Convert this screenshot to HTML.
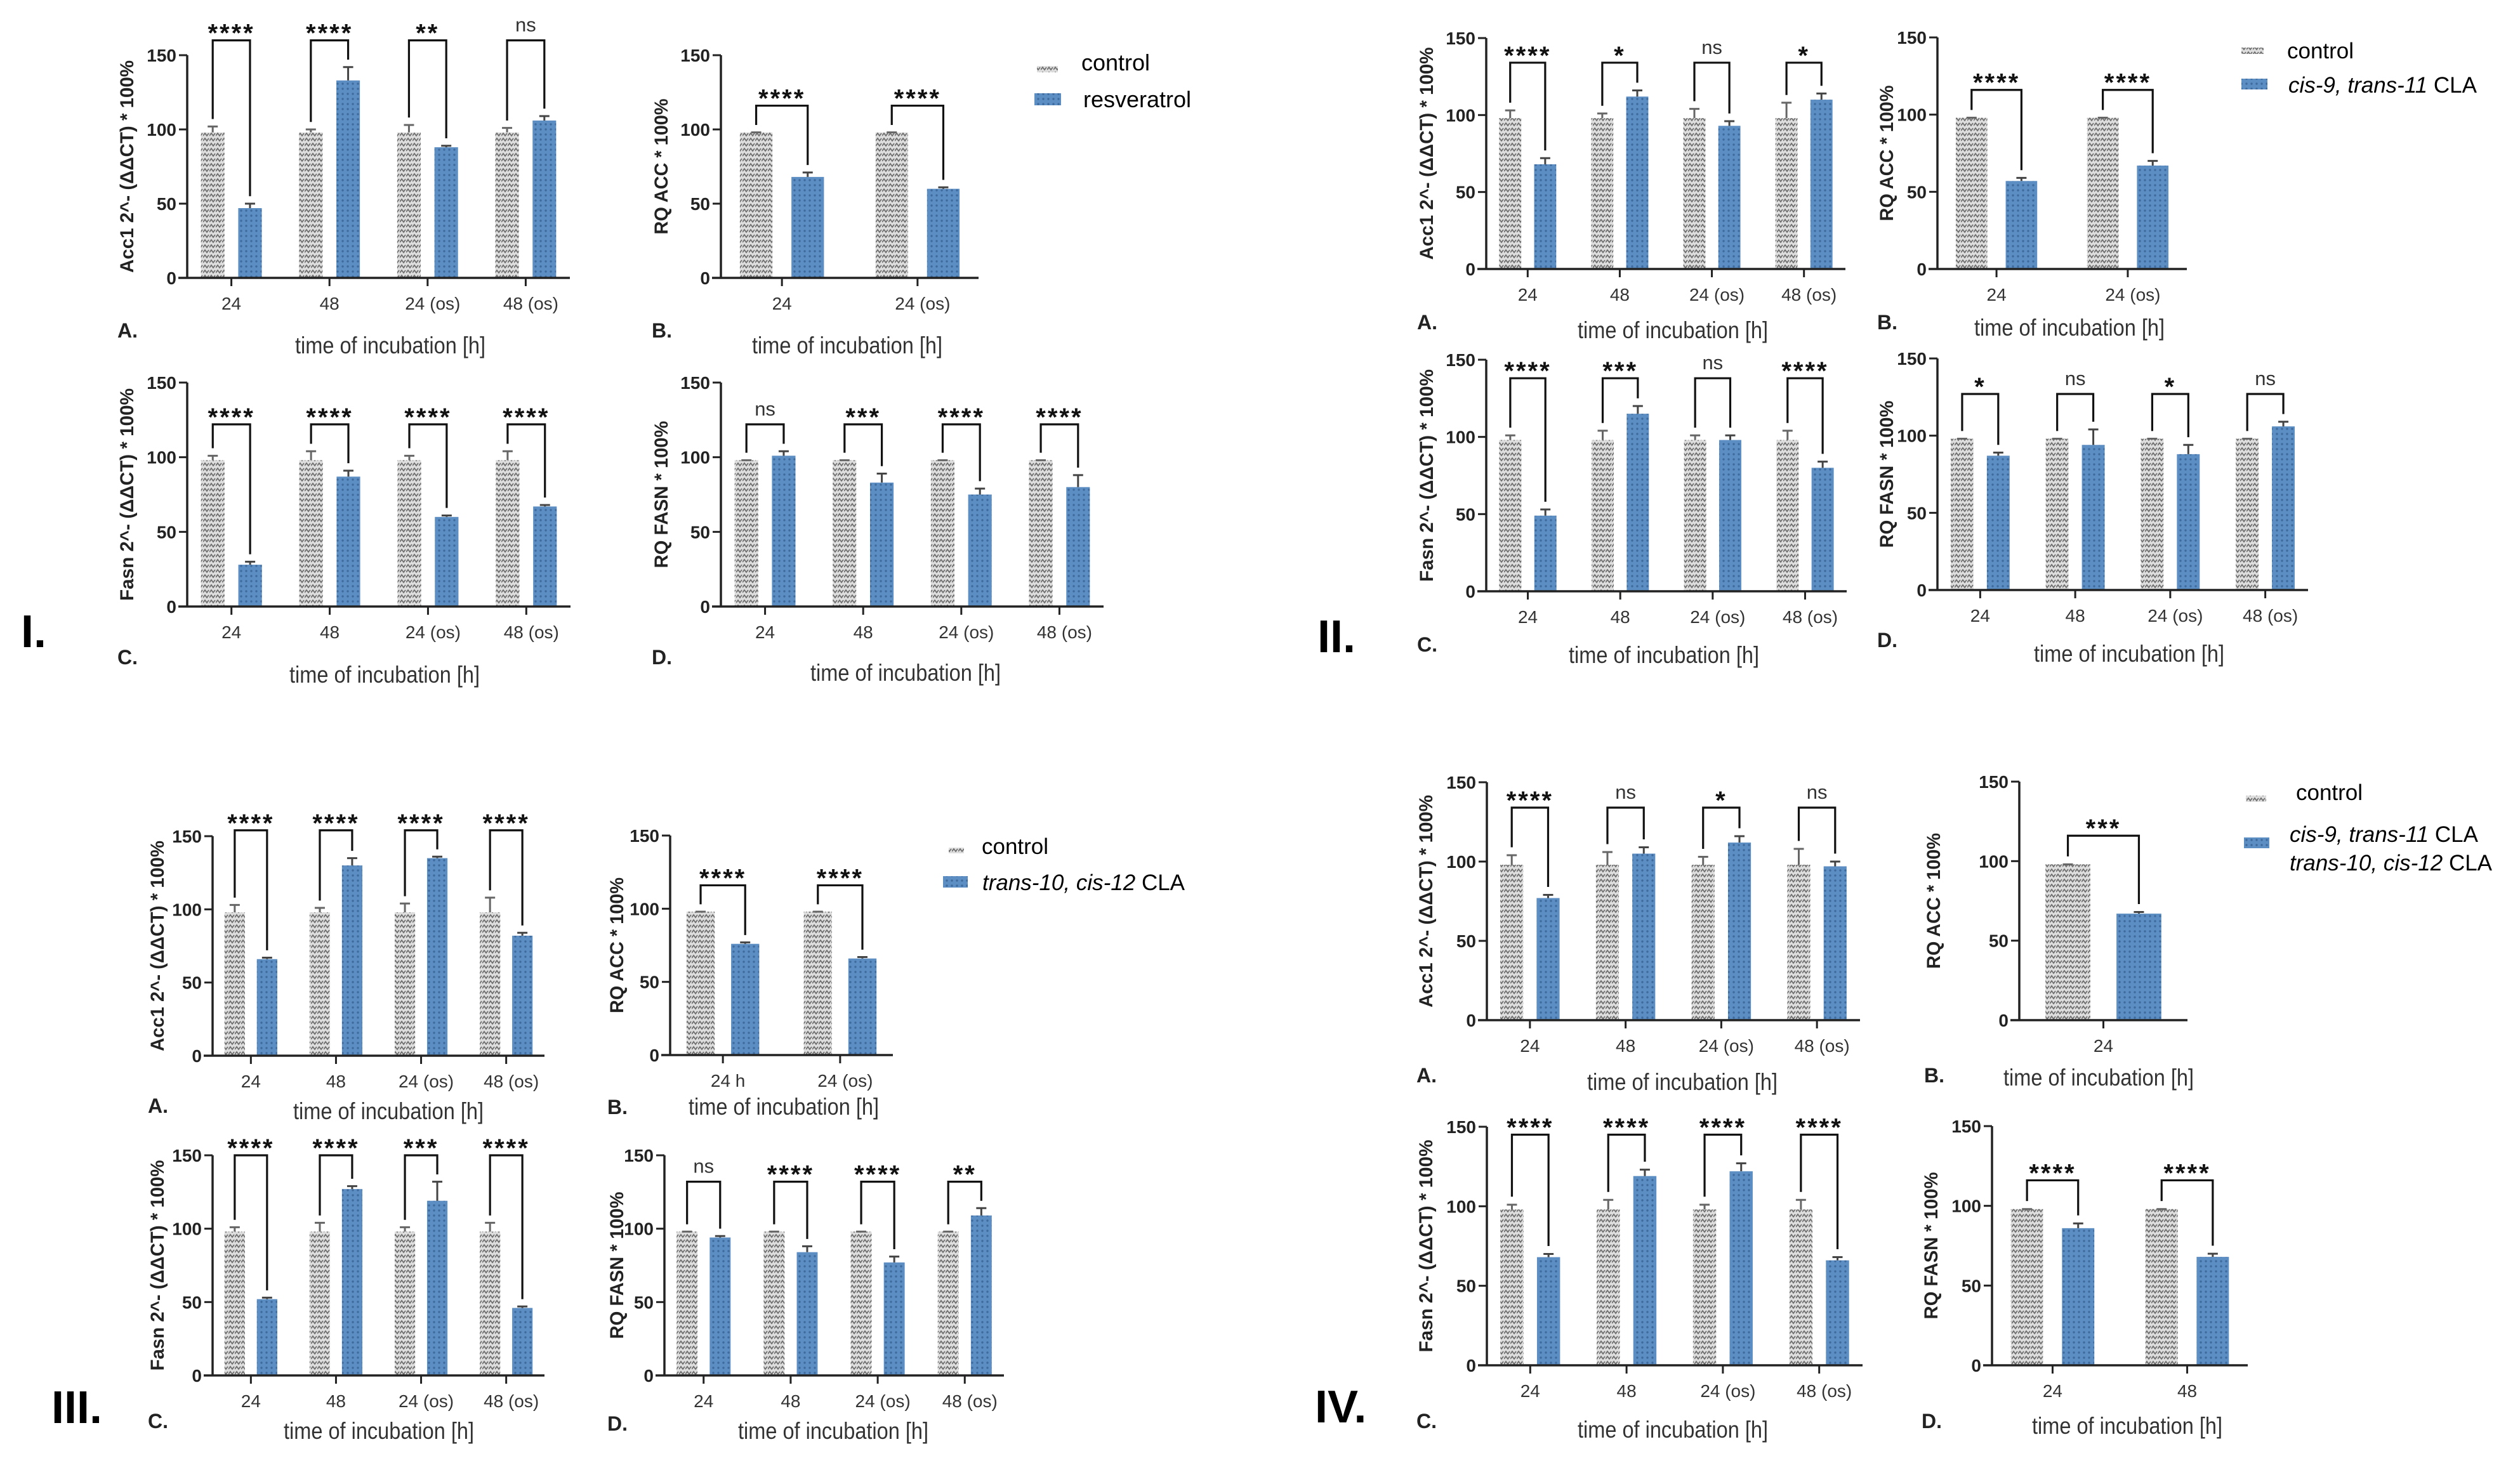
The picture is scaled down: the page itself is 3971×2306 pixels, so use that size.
<!DOCTYPE html>
<html><head><meta charset="utf-8"><title>Gene expression figure</title>
<style>
html,body{margin:0;padding:0;background:#fff;}
svg{display:block;}
text{font-family:"Liberation Sans",Arial,sans-serif;}
</style></head>
<body>
<svg id="fig" xmlns="http://www.w3.org/2000/svg" width="3971" height="2306" viewBox="0 0 3971 2306">
<defs>
<pattern id="ctrlPat" width="10" height="8" patternUnits="userSpaceOnUse"><rect width="10" height="8" fill="#dedede"/><path d="M0 6 L3 2 L6 6 L9 2" stroke="#6e6e6e" stroke-width="1.8" fill="none"/></pattern>
<pattern id="trtPat" width="8" height="8" patternUnits="userSpaceOnUse"><rect width="8" height="8" fill="#5c8ec3"/><circle cx="4" cy="4" r="1.7" fill="#3e6b9e"/></pattern>
</defs>
<rect width="3971" height="2306" fill="#fff"/>
<g font-weight="bold" font-size="72">
<text x="33" y="1020">I.</text>
<text x="2076" y="1028">II.</text>
<text x="81" y="2243">III.</text>
<text x="2072" y="2242">IV.</text>
</g>
<g font-size="36">
<rect x="1634" y="104" width="33" height="10" fill="url(#ctrlPat)"/>
<text x="1704" y="111">control</text>
<rect x="1630" y="147" width="42" height="19" fill="url(#trtPat)"/>
<text x="1707" y="169">resveratrol</text>
</g>
<g font-size="35">
<rect x="3532" y="75" width="35" height="10" fill="url(#ctrlPat)"/>
<text x="3604" y="92">control</text>
<rect x="3532" y="124" width="41" height="17" fill="url(#trtPat)"/>
<text x="3606" y="146"><tspan font-style="italic">cis-9, trans-11</tspan> CLA</text>
</g>
<g font-size="35">
<rect x="1495" y="1336" width="24" height="9" fill="url(#ctrlPat)"/>
<text x="1547" y="1346">control</text>
<rect x="1486" y="1381" width="39" height="18" fill="url(#trtPat)"/>
<text x="1548" y="1403"><tspan font-style="italic">trans-10, cis-12</tspan> CLA</text>
</g>
<g font-size="35">
<rect x="3539" y="1254" width="32" height="10" fill="url(#ctrlPat)"/>
<text x="3618" y="1261">control</text>
<rect x="3536" y="1320" width="40" height="17" fill="url(#trtPat)"/>
<text x="3608" y="1327"><tspan font-style="italic">cis-9, trans-11</tspan> CLA</text>
<text x="3608" y="1372"><tspan font-style="italic">trans-10, cis-12</tspan> CLA</text>
</g>
</svg>
<script>
// ---- data ----
const yTicks = [0, 50, 100, 150];
const cats4 = ["24", "48", "24 (os)", "48 (os)"];
const cats2os = ["24", "24 (os)"];
const cats2h = ["24 h", "24 (os)"];
const cats1 = ["24"];
const cats2 = ["24", "48"];

const iaCtrl = [98, 98, 98, 98];      const iaCtrlErr = [4, 2, 5, 3];
const iaTrt = [47, 133, 88, 106];     const iaTrtErr = [3, 9, 1, 3];
const iaSig = ["****", "****", "**", "ns"];
const ibCtrl = [98, 98];              const ibCtrlErr = [0, 0];
const ibTrt = [68, 60];               const ibTrtErr = [3, 1];
const ibSig = ["****", "****"];
const icCtrl = [98, 98, 98, 98];      const icCtrlErr = [3, 6, 3, 6];
const icTrt = [28, 87, 60, 67];       const icTrtErr = [2, 4, 1, 1];
const icSig = ["****", "****", "****", "****"];
const idCtrl = [98, 98, 98, 98];      const idCtrlErr = [0, 0, 0, 0];
const idTrt = [101, 83, 75, 80];      const idTrtErr = [3, 6, 4, 8];
const idSig = ["ns", "***", "****", "****"];

const iiaCtrl = [98, 98, 98, 98];     const iiaCtrlErr = [5, 3, 6, 10];
const iiaTrt = [68, 112, 93, 110];    const iiaTrtErr = [4, 4, 3, 4];
const iiaSig = ["****", "*", "ns", "*"];
const iibCtrl = [98, 98];             const iibCtrlErr = [0, 0];
const iibTrt = [57, 67];              const iibTrtErr = [2, 3];
const iibSig = ["****", "****"];
const iicCtrl = [98, 98, 98, 98];     const iicCtrlErr = [3, 6, 3, 6];
const iicTrt = [49, 115, 98, 80];     const iicTrtErr = [4, 5, 3, 4];
const iicSig = ["****", "***", "ns", "****"];
const iidCtrl = [98, 98, 98, 98];     const iidCtrlErr = [0, 0, 0, 0];
const iidTrt = [87, 94, 88, 106];     const iidTrtErr = [2, 10, 6, 3];
const iidSig = ["*", "ns", "*", "ns"];

const iiiaCtrl = [98, 98, 98, 98];    const iiiaCtrlErr = [5, 3, 6, 10];
const iiiaTrt = [66, 130, 135, 82];   const iiiaTrtErr = [1, 5, 1, 2];
const iiiaSig = ["****", "****", "****", "****"];
const iiibCtrl = [98, 98];            const iiibCtrlErr = [0, 0];
const iiibTrt = [76, 66];             const iiibTrtErr = [1, 1];
const iiibSig = ["****", "****"];
const iiicCtrl = [98, 98, 98, 98];    const iiicCtrlErr = [3, 6, 3, 6];
const iiicTrt = [52, 127, 119, 46];   const iiicTrtErr = [1, 2, 13, 1];
const iiicSig = ["****", "****", "***", "****"];
const iiidCtrl = [98, 98, 98, 98];    const iiidCtrlErr = [0, 0, 0, 0];
const iiidTrt = [94, 84, 77, 109];    const iiidTrtErr = [1, 4, 4, 5];
const iiidSig = ["ns", "****", "****", "**"];

const ivaCtrl = [98, 98, 98, 98];     const ivaCtrlErr = [6, 8, 5, 10];
const ivaTrt = [77, 105, 112, 97];    const ivaTrtErr = [2, 4, 4, 3];
const ivaSig = ["****", "ns", "*", "ns"];
const ivbCtrl = [98];                 const ivbCtrlErr = [0];
const ivbTrt = [67];                  const ivbTrtErr = [1];
const ivbSig = ["***"];
const ivcCtrl = [98, 98, 98, 98];     const ivcCtrlErr = [3, 6, 3, 6];
const ivcTrt = [68, 119, 122, 66];    const ivcTrtErr = [2, 4, 5, 2];
const ivcSig = ["****", "****", "****", "****"];
const ivdCtrl = [98, 98];             const ivdCtrlErr = [0, 0];
const ivdTrt = [86, 68];              const ivdTrtErr = [3, 2];
const ivdSig = ["****", "****"];

const NS = "http://www.w3.org/2000/svg";
const svg = document.getElementById("fig");
function mk(tag, attrs, parent) {
  const e = document.createElementNS(NS, tag);
  for (const k in attrs) e.setAttribute(k, attrs[k]);
  parent.appendChild(e);
  return e;
}

function panel(name, g0, cats, ctrl, ctrlErr, trt, trtErr, sig, ylabel, ylen, letter) {
  const g = mk("g", {}, svg);
  
  
  const yMax = 150;
  const y = v => g0.y0 - v / yMax * (g0.y0 - g0.y150);
  const n = cats.length;
  const s = (g0.xend - g0.ax) / (n - 0.1);
  const xc = i => g0.ax + (0.45 + i) * s;
  const bw = 0.24 * s;
  const off = 0.19 * s;
  for (let i = 0; i < n; i++) {
    const cx = xc(i) - off, tx = xc(i) + off;
    const r1 = mk("rect", {x: cx - bw / 2, y: y(ctrl[i]), width: bw, height: g0.y0 - y(ctrl[i]), fill: "url(#ctrlPat)"}, g);
    
    
    const r2 = mk("rect", {x: tx - bw / 2, y: y(trt[i]), width: bw, height: g0.y0 - y(trt[i]), fill: "url(#trtPat)"}, g);
    
    
    const e1 = mk("path", {d: `M${cx} ${y(ctrl[i])} V${y(ctrl[i] + ctrlErr[i])} M${cx - 8} ${y(ctrl[i] + ctrlErr[i])} H${cx + 8}`, stroke: "#666", "stroke-width": 3, fill: "none"}, g);
    
    
    const e2 = mk("path", {d: `M${tx} ${y(trt[i])} V${y(trt[i] + trtErr[i])} M${tx - 8} ${y(trt[i] + trtErr[i])} H${tx + 8}`, stroke: "#444", "stroke-width": 3, fill: "none"}, g);
    
    
  }
  let mx = 0;
  for (let i = 0; i < n; i++) mx = Math.max(mx, ctrl[i] + ctrlErr[i], trt[i] + trtErr[i]);
  const by = y(mx + 18);
  for (let i = 0; i < n; i++) {
    const cx = xc(i) - off, tx = xc(i) + off;
    const br = mk("path", {d: `M${cx} ${y(ctrl[i] + ctrlErr[i] + 5)} V${by} H${tx} V${y(trt[i] + trtErr[i] + 5)}`, stroke: "#111", "stroke-width": 3.2, fill: "none"}, g);
    
    
    const isNs = sig[i] === "ns";
    const t = mk("text", {x: (cx + tx) / 2, y: isNs ? by - 14 : by + 2, "text-anchor": "middle", "font-size": isNs ? 31 : 40, "font-weight": isNs ? "normal" : "bold", fill: isNs ? "#333" : "#111", "letter-spacing": isNs ? 0 : 3}, g);
    t.textContent = sig[i];
    
    
  }
  const ya = mk("line", {x1: g0.ax, y1: g0.y150, x2: g0.ax, y2: g0.y0, stroke: "#222", "stroke-width": 3.5}, g);
  
  
  const xa = mk("line", {x1: g0.ax - 14, y1: g0.y0, x2: g0.xend, y2: g0.y0, stroke: "#222", "stroke-width": 3.5}, g);
  
  
  for (const v of yTicks) {
    const tk = mk("line", {x1: g0.ax - 13, y1: y(v), x2: g0.ax, y2: y(v), stroke: "#222", "stroke-width": 3}, g);
    
    
    const tl = mk("text", {x: g0.ax - 17, y: y(v) + 10, "text-anchor": "end", "font-size": 28, "font-weight": "bold", fill: "#222"}, g);
    tl.textContent = v;
    
    
  }
  for (let i = 0; i < n; i++) {
    const tk = mk("line", {x1: xc(i), y1: g0.y0, x2: xc(i), y2: g0.y0 + 13, stroke: "#222", "stroke-width": 3}, g);
    
    
    const tl = mk("text", {x: xc(i) + (cats[i].length > 3 ? 8 : 0), y: g0.y0 + 50, "text-anchor": "middle", "font-size": 28, fill: "#333"}, g);
    tl.textContent = cats[i];
    
    
  }
  const cy = (g0.y0 + g0.y150) / 2;
  const yl = mk("text", {x: 0, y: 0, transform: `translate(${g0.ylab + 11},${cy}) rotate(-90)`, "text-anchor": "middle", "font-size": 30, "font-weight": "bold", fill: "#222", textLength: ylen, lengthAdjust: "spacingAndGlyphs"}, g);
  yl.textContent = ylabel;
  
  
  const xl = mk("text", {x: g0.xlabX, y: g0.xlabY + 13, "text-anchor": "middle", "font-size": 37, fill: "#333", textLength: 300, lengthAdjust: "spacingAndGlyphs"}, g);
  xl.textContent = "time of incubation [h]";
  
  
  const lt = mk("text", {x: g0.ylab - 14, y: g0.letterY + 12, "font-size": 32, "font-weight": "bold", fill: "#222"}, g);
  lt.textContent = letter;
  
  
}

const ACC1 = "Acc1 2^- (\u0394\u0394CT) * 100%";
const FASN = "Fasn 2^- (\u0394\u0394CT) * 100%";
const RQACC = "RQ ACC * 100%";
const RQFASN = "RQ FASN * 100%";

panel("panel-i-a", {ax:295,y0:438,y150:87,xend:898,ylab:199,letterY:520,xlabY:544,xlabX:615}, cats4, iaCtrl, iaCtrlErr, iaTrt, iaTrtErr, iaSig, ACC1, 335, "A.");
panel("panel-i-b", {ax:1136,y0:438,y150:87,xend:1542,ylab:1041,letterY:520,xlabY:544,xlabX:1335}, cats2os, ibCtrl, ibCtrlErr, ibTrt, ibTrtErr, ibSig, RQACC, 214, "B.");
panel("panel-i-c", {ax:295,y0:956,y150:603,xend:899,ylab:199,letterY:1035,xlabY:1063,xlabX:606}, cats4, icCtrl, icCtrlErr, icTrt, icTrtErr, icSig, FASN, 335, "C.");
panel("panel-i-d", {ax:1136,y0:956,y150:603,xend:1739,ylab:1041,letterY:1035,xlabY:1060,xlabX:1427}, cats4, idCtrl, idCtrlErr, idTrt, idTrtErr, idSig, RQFASN, 232, "D.");

panel("panel-ii-a", {ax:2342,y0:424,y150:60,xend:2908,ylab:2247,letterY:507,xlabY:520,xlabX:2636}, cats4, iiaCtrl, iiaCtrlErr, iiaTrt, iiaTrtErr, iiaSig, ACC1, 335, "A.");
panel("panel-ii-b", {ax:3053,y0:424,y150:59,xend:3446,ylab:2972,letterY:507,xlabY:516,xlabX:3261}, cats2os, iibCtrl, iibCtrlErr, iibTrt, iibTrtErr, iibSig, RQACC, 214, "B.");
panel("panel-ii-c", {ax:2342,y0:932,y150:567,xend:2910,ylab:2247,letterY:1015,xlabY:1032,xlabX:2622}, cats4, iicCtrl, iicCtrlErr, iicTrt, iicTrtErr, iicSig, FASN, 335, "C.");
panel("panel-ii-d", {ax:3053,y0:930,y150:565,xend:3637,ylab:2972,letterY:1008,xlabY:1030,xlabX:3355}, cats4, iidCtrl, iidCtrlErr, iidTrt, iidTrtErr, iidSig, RQFASN, 232, "D.");

panel("panel-iii-a", {ax:335,y0:1664,y150:1318,xend:858,ylab:247,letterY:1742,xlabY:1751,xlabX:612}, cats4, iiiaCtrl, iiiaCtrlErr, iiiaTrt, iiiaTrtErr, iiiaSig, ACC1, 332, "A.");
panel("panel-iii-b", {ax:1056,y0:1663,y150:1317,xend:1407,ylab:971,letterY:1744,xlabY:1744,xlabX:1235}, cats2h, iiibCtrl, iiibCtrlErr, iiibTrt, iiibTrtErr, iiibSig, RQACC, 214, "B.");
panel("panel-iii-c", {ax:335,y0:2168,y150:1821,xend:858,ylab:247,letterY:2239,xlabY:2255,xlabX:597}, cats4, iiicCtrl, iiicCtrlErr, iiicTrt, iiicTrtErr, iiicSig, FASN, 332, "C.");
panel("panel-iii-d", {ax:1047,y0:2168,y150:1821,xend:1582,ylab:971,letterY:2243,xlabY:2255,xlabX:1313}, cats4, iiidCtrl, iiidCtrlErr, iiidTrt, iiidTrtErr, iiidSig, RQFASN, 232, "D.");

panel("panel-iv-a", {ax:2343,y0:1608,y150:1233,xend:2931,ylab:2246,letterY:1694,xlabY:1705,xlabX:2651}, cats4, ivaCtrl, ivaCtrlErr, ivaTrt, ivaTrtErr, ivaSig, ACC1, 335, "A.");
panel("panel-iv-b", {ax:3182,y0:1608,y150:1232,xend:3447,ylab:3046,letterY:1694,xlabY:1698,xlabX:3307}, cats1, ivbCtrl, ivbCtrlErr, ivbTrt, ivbTrtErr, ivbSig, RQACC, 214, "B.");
panel("panel-iv-c", {ax:2343,y0:2152,y150:1776,xend:2935,ylab:2246,letterY:2239,xlabY:2253,xlabX:2636}, cats4, ivcCtrl, ivcCtrlErr, ivcTrt, ivcTrtErr, ivcSig, FASN, 335, "C.");
panel("panel-iv-d", {ax:3139,y0:2152,y150:1775,xend:3542,ylab:3042,letterY:2239,xlabY:2247,xlabX:3352}, cats2, ivdCtrl, ivdCtrlErr, ivdTrt, ivdTrtErr, ivdSig, RQFASN, 232, "D.");
</script>
</body></html>
